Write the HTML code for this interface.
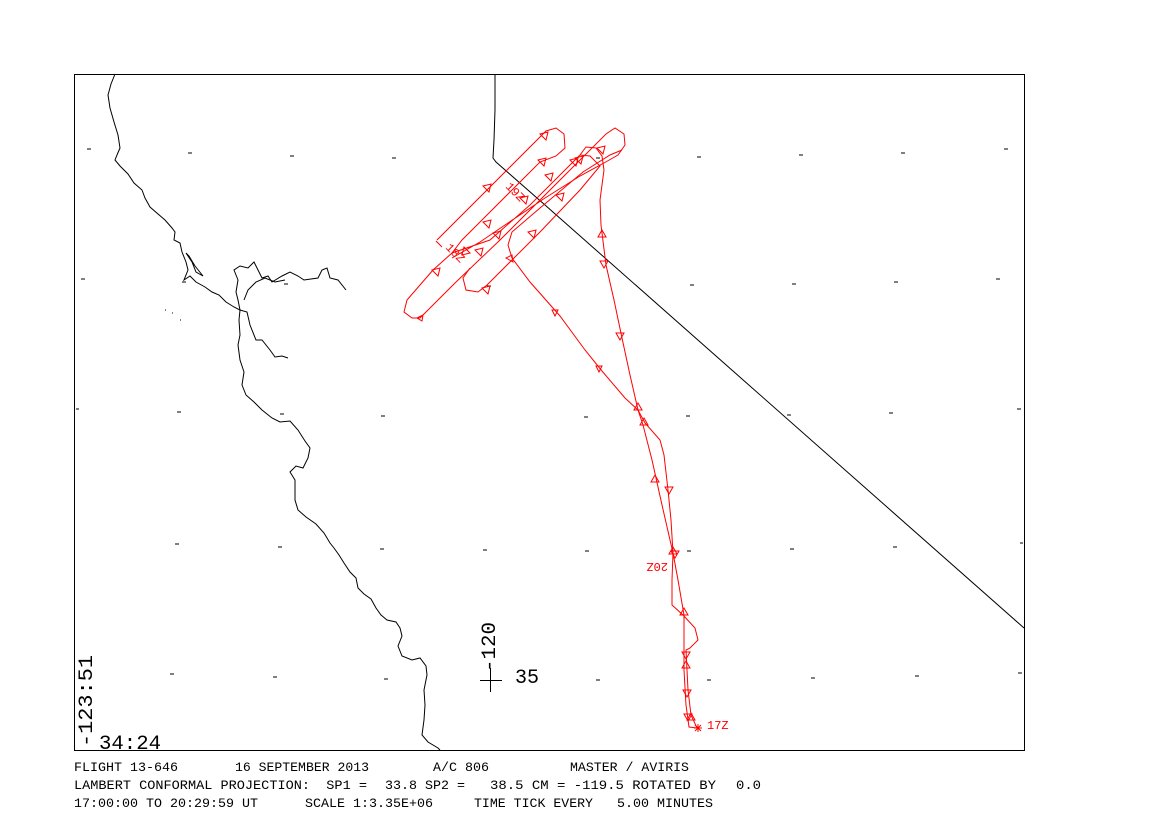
<!DOCTYPE html>
<html><head><meta charset="utf-8"><style>
html,body{margin:0;padding:0;background:#fff;}
svg{display:block;}
text{font-family:"Liberation Mono","DejaVu Sans Mono",monospace;white-space:pre;}
</style></head><body>
<svg width="1170" height="826" viewBox="0 0 1170 826" xmlns="http://www.w3.org/2000/svg">
<rect x="74.5" y="74.5" width="950" height="676" fill="none" stroke="#000" stroke-width="1"/>
<g stroke="#000" stroke-width="1">
<path d="M87 149h4M188 153h4M290 156h4M392 158h4M596 158h4M697 157h4M799 155h4M901 153h4M1004 149h4"/>
<path d="M81 279h4M182 282h4M284 284h4M487 286h4M690 285h4M792 284h4M894 282h4M996 279h4"/>
<path d="M76 409h3M177 412h4M280 414h4M381 416h4M584 417h4M686 416h4M787 415h4M889 413h4M1017 409h4"/>
<path d="M175 544h4M278 547h4M380 549h4M483 550h4M585 551h4M687 551h4M790 549h4M893 547h4M1020 543h3"/>
<path d="M170 674h4M273 677h4M384 679h4M596 680h4M707 680h4M811 678h4M915 676h4M1018 673h4"/>
</g>
<polyline fill="none" stroke="#000" stroke-width="1" points="495,74 495,110 494,140 493,158 496,162 545,205 1024,628"/>
<polyline fill="none" stroke="#000" stroke-width="1" points="115,74 111,84 108,95 110,108 114,122 118,135 120,148 117,155 115,160 120,166 128,174 134,183 142,190 145,198 150,207 158,214 165,220 172,228 175,232 174,240 180,243 182,252 186,262 188,270 184,280 190,276 196,282 205,287 212,292 219,295 226,302 234,307 240,310 239,320 240,335 238,345 240,360 244,372 242,385 246,395 254,402 262,410 272,418 280,422 290,421 298,430 305,441 310,448 308,458 303,468 296,466 290,472 295,480 295,500 298,510 306,517 316,524 324,533 330,543 334,548 339,555 344,563 350,572 356,578 358,588 364,594 371,599 376,608 381,615 387,620 396,622 400,628 402,636 398,646 402,656 412,660 420,658 426,666 427,675 424,690 425,705 424,720 422,735 428,742 438,748 440,750"/>
<polyline fill="none" stroke="#000" stroke-width="1" points="186,253 192,262 196,272 203,276 195,266 189,256 186,253"/>
<polyline fill="none" stroke="#000" stroke-width="1" points="240,310 238,300 236,292 238,280 234,270 240,266 248,268 254,262 258,270 262,278 268,276 272,282 282,276 290,272 298,276 304,280 318,278 322,270 327,268 330,278 338,280 346,290"/>
<polyline fill="none" stroke="#000" stroke-width="1" points="240,310 247,312 250,325 256,340 262,340 270,350 275,357 282,356 288,358"/>
<polyline fill="none" stroke="#000" stroke-width="1" points="244,300 248,290 256,282 265,278 275,282 285,280"/>
<path d="M165 310h1M172 313h1M180 320h1" stroke="#000"/>
<g fill="none" stroke="#f00" stroke-width="1">
<polyline points="697,728 689,727 686,705 684,670 684,640 684,615 678,580 673,553 662,505 652,460 643,425 638,410 630,375 622,338 614,300 606,265 601,225 600,200 604,170 602,156 596,148 586,147 580,155"/>
<polyline points="580,155 530,205 490,240 452,253 433,270 407,300 404,312 412,318 420,318 455,283 500,240 606,134 615,128 624,134 625,145 618,155 604,163 580,176 545,198 505,225 480,242 452,258"/>
<polyline points="437,240 546,131 556,128 564,134 565,148 556,156 540,162 490,212 462,240 452,253"/>
<polyline points="470,268 463,278 466,290 478,292 487,285 540,232 580,190 600,166 590,156 580,155"/>
<polyline points="508,245 512,258 530,282 560,316 585,350 602,371 625,398 638,410 645,423 660,440 664,455 668,490 671,520 673,553 672,580 672,605 683,615 695,628 698,640 690,648 686,650 688,690 691,715 697,728"/>
<polyline points="508,245 512,232 540,208 583,172 610,155 622,150"/>
</g>
<g fill="none" stroke="#f00" stroke-width="1">
<path d="M483,186 l8,-2 -2,8 z M538,160 l8,-2 -2,8 z M540,134 l8,-2 -2,8 z M483,222 l8,-2 -2,8 z M436,241 l6,6 M575,158 l8,-2 -2,8 z M570,160 l8,-2 -2,8 z M556,195 l8,-2 -2,8 z M597,148 l8,-2 -2,8 z M545,175 l8,-2 -2,8 z M520,198 l8,-2 -2,8 z M493,233 l8,-2 -2,8 z M475,250 l8,-2 -2,8 z M528,232 l8,-2 -2,8 z M432,270 l8,-2 -2,8 z M482,288 l8,-2 -2,8 z M417,318 l6,-3 -1,6 z M470,253 l-8,2 2,-8 z M513,262 l-7,-4 6,-3 z M555,316 l-3,-6 6,0 z M599,372 l-3,-6 6,0 z"/>
<path d="M602,230 l-4,7 8,0 z M604,268 l-4,-7 8,0 z M620,340 l-4,-7 8,0 z M634,410 l4,-7 4,7 z M640,425 l4,-7 4,7 z M651,482 l4,-7 4,7 z M665,487 l4,7 4,-7 z M669,554 l4,-7 4,7 z M671,551 l4,7 4,-7 z M680,615 l4,-7 4,7 z M682,652 l4,7 4,-7 z M682,668 l4,-7 4,7 z M683,690 l4,7 4,-7 z M687,720 l4,-7 4,7 z M684,714 l4,7 4,-7 z"/>
<path d="M694,728 h8 M698,724 v8 M695,725 l6,6 M701,725 l-6,6"/>
</g>
<g fill="#f00" font-size="12">
<text x="707" y="729">17Z</text>
<text x="0" y="0" transform="translate(668,563) rotate(180)">20Z</text>
<text x="0" y="0" transform="translate(505,187) rotate(45)">19Z</text>
<text x="0" y="0" transform="translate(445,248) rotate(45)">18Z</text>
</g>
<g fill="#000">
<text x="0" y="0" font-size="20" textLength="92" lengthAdjust="spacingAndGlyphs" transform="translate(92,747) rotate(-90)">-123:51</text>
<text x="99" y="749" font-size="20" textLength="62" lengthAdjust="spacingAndGlyphs">34:24</text>
<text x="0" y="0" font-size="20" textLength="50" lengthAdjust="spacingAndGlyphs" transform="translate(495,672) rotate(-90)">-120</text>
<text x="515" y="683" font-size="20">35</text>
</g>
<path d="M480 680.5h22M490.5 668v24" stroke="#000" stroke-width="1"/>
<g fill="#000" font-size="13">
<text x="74" y="771" textLength="104" lengthAdjust="spacingAndGlyphs">FLIGHT 13-646</text>
<text x="235" y="771" textLength="134" lengthAdjust="spacingAndGlyphs">16 SEPTEMBER 2013</text>
<text x="433" y="771" textLength="56" lengthAdjust="spacingAndGlyphs">A/C 806</text>
<text x="570" y="771" textLength="119" lengthAdjust="spacingAndGlyphs">MASTER / AVIRIS</text>
<text x="74" y="789" textLength="293" lengthAdjust="spacingAndGlyphs">LAMBERT CONFORMAL PROJECTION:  SP1 =</text>
<text x="385" y="789" textLength="80" lengthAdjust="spacingAndGlyphs">33.8 SP2 =</text>
<text x="490" y="789" textLength="226" lengthAdjust="spacingAndGlyphs">38.5 CM = -119.5 ROTATED BY</text>
<text x="736" y="789" textLength="25" lengthAdjust="spacingAndGlyphs">0.0</text>
<text x="74" y="807" textLength="184" lengthAdjust="spacingAndGlyphs">17:00:00 TO 20:29:59 UT</text>
<text x="305" y="807" textLength="128" lengthAdjust="spacingAndGlyphs">SCALE 1:3.35E+06</text>
<text x="474" y="807" textLength="119" lengthAdjust="spacingAndGlyphs">TIME TICK EVERY</text>
<text x="617" y="807" textLength="96" lengthAdjust="spacingAndGlyphs">5.00 MINUTES</text>
</g>
</svg>
</body></html>
